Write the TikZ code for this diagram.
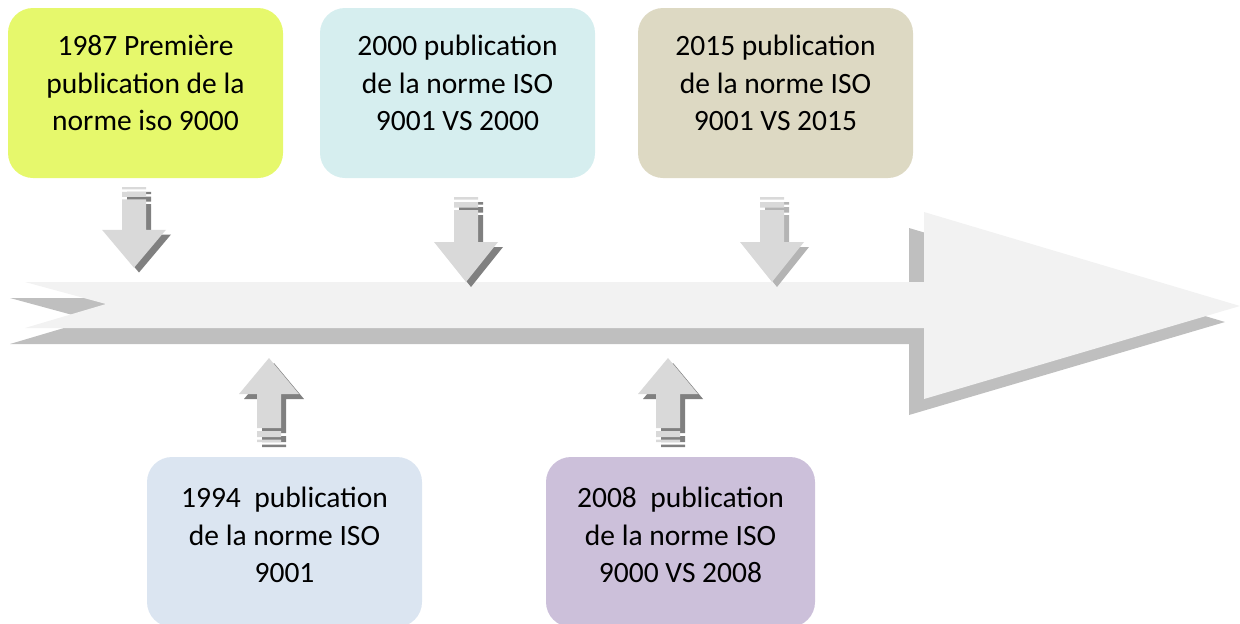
\documentclass[tikz,border=0pt]{standalone}
\usepackage{fontspec}
\setmainfont{Carlito}
\definecolor{boxA}{HTML}{E6F86C}
\definecolor{boxB}{HTML}{D6EEEF}
\definecolor{boxC}{HTML}{DDD9C3}
\definecolor{boxD}{HTML}{DBE5F1}
\definecolor{boxE}{HTML}{CCC0DA}
\definecolor{linebody}{HTML}{F2F2F2}
\definecolor{lineshadow}{HTML}{BFBFBF}
\definecolor{arrbody}{HTML}{D9D9D9}
\definecolor{arrdark}{HTML}{808080}
\definecolor{arrlight}{HTML}{B4B4B4}

% striped block arrows, origin at the tail top (down) or at the tip (up)
\newcommand\dnarrowpath{(-12,0) rectangle (12,2.5) (-12,5) rectangle (12,10.5)
  (-12,13) -- (12,13) -- (12,45) -- (32,45) -- (0,85) -- (-32,45) -- (-12,45) -- cycle}
\newcommand\uparrowpath{(0,0) -- (30,36) -- (12,36) -- (12,70) -- (-12,70) -- (-12,36) -- (-30,36) -- cycle
  (-12,73) rectangle (12,79) (-12,81.5) rectangle (12,84)}
\newcommand\timelinepath{(25,282) -- (106,304) -- (25,328) -- (924,328) -- (924,399)
  -- (1240,306) -- (924,212) -- (924,282) -- cycle}

\tikzset{
  eventbox/.style={rectangle, rounded corners=25pt, inner sep=0pt,
    minimum width=275pt, minimum height=170pt},
  eventtext/.style={align=center, inner sep=0pt,
    font=\fontsize{29.5}{37.5}\selectfont},
  pics/downarr/.style={code={
    \fill[#1, shift={(5,5)}] \dnarrowpath;
    \fill[arrbody] \dnarrowpath;
  }},
  pics/uparr/.style={code={
    \fill[#1, shift={(5,5)}] \uparrowpath;
    \fill[arrbody] \uparrowpath;
  }}
}

\begin{document}
\begin{tikzpicture}[x=1pt, y=-1pt]
\clip (0,0) rectangle (1240,624);

% timeline arrow with its drop shadow
\fill[lineshadow, shift={(-15,16)}] \timelinepath;
\fill[linebody] \timelinepath;

% events above the line
\node[eventbox, fill=boxA] (b1987) at (145.5,93) {};
\node[eventtext] (t1987) at (145.5,83) {1987 Première\\publication de la\\norme iso 9000};
\node[eventbox, fill=boxB] (b2000) at (457.5,93) {};
\node[eventtext] (t2000) at (457.5,83) {2000 publication\\de la norme ISO\\9001 VS 2000};
\node[eventbox, fill=boxC] (b2015) at (775.5,93) {};
\node[eventtext] (t2015) at (775.5,83) {2015 publication\\de la norme ISO\\9001 VS 2015};

% events below the line
\node[eventbox, fill=boxD] (b1994) at (284.5,542) {};
\node[eventtext] (t1994) at (284.5,535) {1994~ publication\\de la norme ISO\\9001};
\node[eventbox, fill=boxE, minimum width=269pt] (b2008) at (680.5,542) {};
\node[eventtext] (t2008) at (680.5,535) {2008~ publication\\de la norme ISO\\9000 VS 2008};

% pointers onto the line
\pic[yscale=0.95] at (134,187) {downarr=arrdark};
\pic at (466,197) {downarr=arrdark};
\pic at (772,197) {downarr=arrlight};
\pic at (269,358) {uparr=arrdark};
\pic at (668,358) {uparr=arrdark};
\end{tikzpicture}
\end{document}
